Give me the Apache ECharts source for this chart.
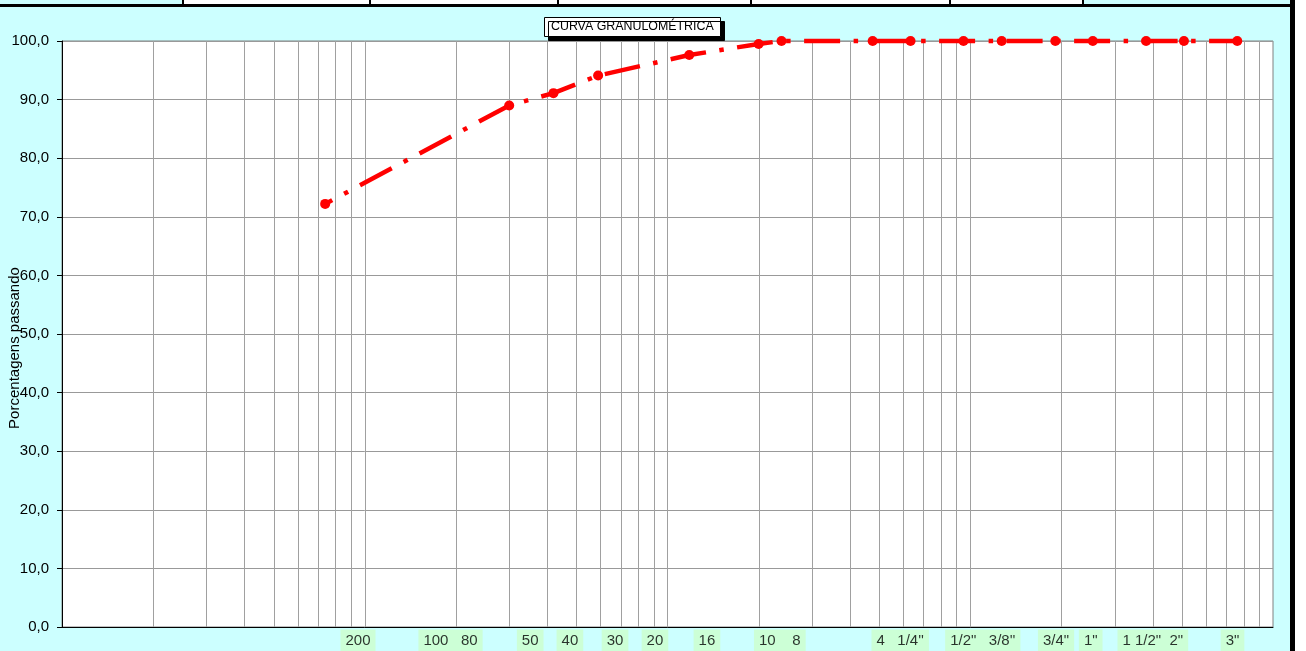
<!DOCTYPE html>
<html>
<head>
<meta charset="utf-8">
<script src="https://cdn.jsdelivr.net/npm/echarts@6/dist/echarts.min.js"></script>
<style>
html,body{margin:0;padding:0;background:#fff;}
#chart{width:1306px;height:651px;}
</style>
</head>
<body>
<div id="chart"></div>
<script>
// Sieve openings (mm) and percentage passing
const sieveMM = [0.074, 0.3, 0.42, 0.59, 1.18, 2.0, 2.38, 4.76, 6.35, 9.5, 12.7, 19.1, 25.4, 38.1, 50.8, 76.2];
const passing = [72.2, 89.0, 91.1, 94.1, 97.6, 99.5, 100, 100, 100, 100, 100, 100, 100, 100, 100, 100];
// Sieve name labels shown under the axis and the axis value (mm) they sit at
const sieveLabels = ['200', '100   80', '50', '40', '30', '20', '16', '10    8', "4   1/4''", '1/2"   3/8\'\'', '3/4"', '1"', '1 1/2"  2"', '3"'];
const sieveLabelAt = [0.095, 0.192, 0.352, 0.476, 0.671, 0.909, 1.35, 2.35, 5.87, 11.0, 19.2, 25.0, 40.1, 73.5];
// Axis ranges
const xMin = 0.01, xMax = 100;
const yMin = 0, yMax = 100, yStep = 10;
const titleText = 'CURVA GRANULOMÉTRICA';
const yName = 'Porcentagens passando';

// log grid lines (1..9 per decade)
const gridVals = [];
for (let d = xMin; d < xMax; d *= 10) {
  for (let m = 1; m <= 9; m++) {
    const v = +(m * d).toPrecision(6);
    if (v > xMin && v < xMax) gridVals.push(v);
  }
}

const FONT = 'Liberation Sans, Arial, sans-serif';
const chart = echarts.init(document.getElementById('chart'), null, {renderer: 'canvas'});

const topCellLines = [183, 370, 558, 751, 950, 1083];

const option = {
  backgroundColor: '#CCFFFF',
  animation: false,
  title: {
    text: titleText,
    left: 544, top: 17,
    padding: [4, 7, 4, 7],
    backgroundColor: '#ffffff',
    borderColor: '#000000',
    borderWidth: 1,
    shadowColor: '#000000',
    shadowBlur: 0,
    shadowOffsetX: 4,
    shadowOffsetY: 4,
    textStyle: {fontFamily: FONT, fontSize: 12.4, fontWeight: 'normal', color: '#000'}
  },
  grid: {
    left: 62, right: 33, top: 41, bottom: 24,
    show: true, backgroundColor: '#ffffff', borderColor: '#808080', borderWidth: 1
  },
  xAxis: {
    type: 'log', logBase: 10, min: xMin, max: xMax,
    axisLine: {show: true, onZero: false, lineStyle: {color: '#000', width: 1}},
    axisTick: {show: false},
    axisLabel: {show: false},
    splitLine: {show: false},
    minorTick: {show: false}
  },
  yAxis: {
    type: 'value', min: yMin, max: yMax, interval: yStep,
    axisLine: {show: true, lineStyle: {color: '#000', width: 1}},
    axisTick: {show: true, length: 5, lineStyle: {color: '#000'}},
    axisLabel: {
      color: '#000', fontFamily: FONT, fontSize: 15, margin: 13,
      formatter: v => v.toFixed(1).replace('.', ',')
    },
    splitLine: {show: true, lineStyle: {color: '#999999', width: 1}}
  },
  graphic: [
    {type: 'rect', shape: {x: 184, y: 0, width: 899, height: 4}, style: {fill: '#ffffff'}},
    {type: 'rect', shape: {x: 1295, y: 0, width: 11, height: 651}, style: {fill: '#ffffff'}},
    {type: 'rect', shape: {x: 0, y: 4, width: 1295, height: 3}, style: {fill: '#000000'}},
    {type: 'rect', shape: {x: 1290, y: 0, width: 5, height: 651}, style: {fill: '#000000'}},
    ...topCellLines.map(x => ({type: 'rect', shape: {x: x - 1, y: 0, width: 2, height: 5}, style: {fill: '#000'}})),
    {
      type: 'text', x: 15, y: 348, rotation: Math.PI / 2, z: 10,
      style: {text: yName, font: '15px ' + FONT, fill: '#000', align: 'center', verticalAlign: 'middle'}
    }
  ],
  series: [
    {
      type: 'custom', z: 1, silent: true,
      data: gridVals.map(v => [v, yMin]),
      encode: {x: 0, y: 1},
      renderItem: (params, api) => {
        const p = api.coord([api.value(0), yMin]);
        const t = api.coord([api.value(0), yMax]);
        const x = Math.round(p[0]) + 0.5;
        return {type: 'line', shape: {x1: x, y1: p[1], x2: x, y2: t[1]}, style: {stroke: '#a0a0a0', lineWidth: 1}};
      }
    },
    {
      type: 'line', z: 5, clip: false,
      data: sieveMM.map((v, i) => [v, passing[i]]),
      symbol: 'circle', symbolSize: 10,
      itemStyle: {color: '#FF0000'},
      lineStyle: {color: '#FF0000', width: 4.5, type: [36, 13.5, 4.5, 13.5], dashOffset: 28, cap: 'butt'}
    },
    {
      type: 'scatter', z: 6, clip: false, silent: true,
      data: sieveLabelAt.map((v, i) => [v, yMin]),
      symbolSize: 1,
      itemStyle: {color: 'rgba(0,0,0,0)'},
      label: {
        show: true, position: 'bottom', distance: 2,
        formatter: p => sieveLabels[p.dataIndex],
        color: '#000', fontFamily: FONT, fontSize: 15,
        backgroundColor: '#CCFFCC', padding: [4, 5, 3, 5]
      }
    }
  ]
};
chart.setOption(option);
</script>
</body>
</html>
